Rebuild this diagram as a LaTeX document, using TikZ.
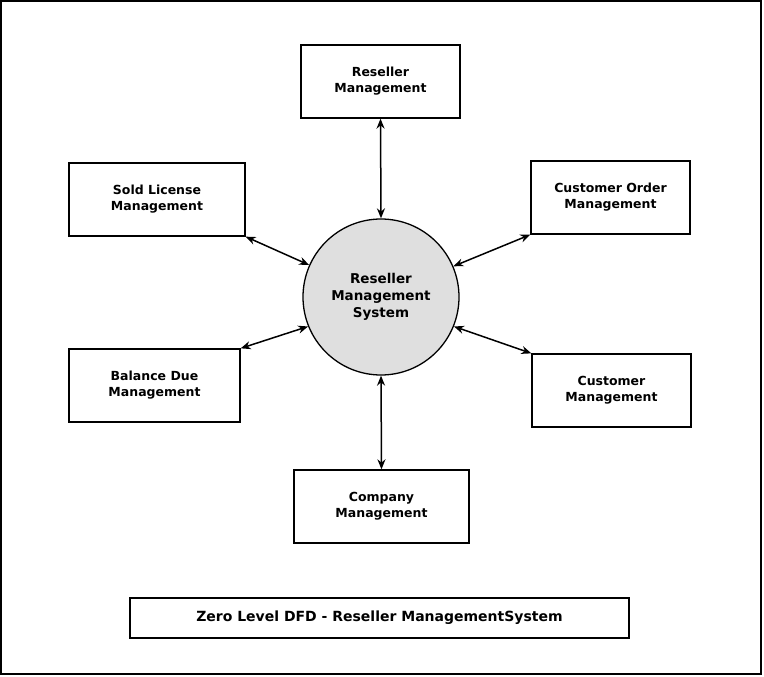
\documentclass[tikz,border=0pt]{standalone}
\usepackage{fontspec}
\setmainfont{DejaVu Sans}
\usetikzlibrary{arrows.meta, positioning}
\tikzset{
 procbox/.style={draw, line width=1.3pt, minimum width=#1, minimum height=73pt, align=center, font=\bfseries\fontsize{12.5}{16}\selectfont},
 procbox/.default=159pt,
 flow/.style={line width=1.5pt, {Stealth[length=10pt,width=8pt]}-{Stealth[length=10pt,width=8pt]}}
}
\begin{document}
\begin{tikzpicture}[x=1pt, y=-1pt]
 \useasboundingbox (0,0) rectangle (764,677);
 \draw[line width=1.5pt] (1,1) rectangle (761,674);

 \node[draw, line width=1.3pt, circle, fill=gray!25, minimum size=156pt, align=center, font=\bfseries\fontsize{13.5}{17}\selectfont] (sys) at (381,297) {Reseller\\Management\\System};

 \node[procbox] (reseller) at (380.5,81.5) {Reseller\\Management};
 \node[procbox=176pt] (sold) at (157,199.5) {Sold License\\Management};
 \node[procbox] (order) at (610.5,197.5) {Customer Order\\Management};
 \node[procbox=171pt] (balance) at (154.5,385.5) {Balance Due\\Management};
 \node[procbox] (customer) at (611.5,390.5) {Customer\\Management};
 \node[procbox=175pt] (company) at (381.5,506.5) {Company\\Management};

 \node[draw, line width=1.3pt, minimum width=499pt, minimum height=40pt, font=\bfseries\fontsize{14}{17}\selectfont] (title) at (379.5,618) {Zero Level DFD - Reseller ManagementSystem};

 \draw[flow] (reseller.south) -- (sys.north);
 \draw[flow] (sold.south east) -- (sys.156);
 \draw[flow] (order.south west) -- (sys.23);
 \draw[flow] (balance.north east) -- (sys.202);
 \draw[flow] (customer.north west) -- (sys.338);
 \draw[flow] (company.north) -- (sys.south);
\end{tikzpicture}
\end{document}
